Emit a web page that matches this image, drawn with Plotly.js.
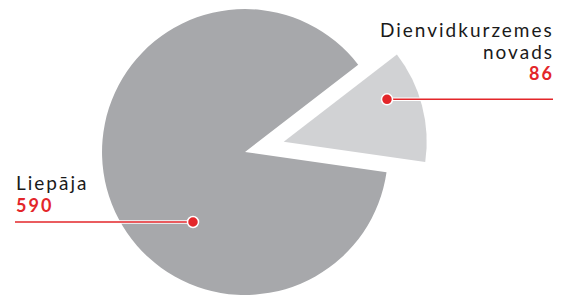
<!DOCTYPE html>
<html>
<head>
<meta charset="utf-8">
<script src="https://cdn.plot.ly/plotly-3.0.1.min.js"></script>
<style>
  html, body { margin: 0; padding: 0; width: 563px; height: 297px; overflow: hidden; background: #fff; }
  #chart { position: absolute; left: 0; top: -31px; width: 563px; height: 366px; }
  .annotation-text { letter-spacing: 2px; }
</style>
</head>
<body>
<div id="chart"></div>
<script>
// Data
const labels = ["Dienvidkurzemes novads", "Liepāja"];
const values = [86, 590];
const labelLines = [["Dienvidkurzemes", "novads"], ["Liepāja"]];
const valueTexts = ["86", "590"];

const W = 563, H = 366, OFF = 31;
const px = x => x / W;
const py = y => 1 - (y + OFF) / H;

const red = "#e3262a";
const sliceColors = ["#d1d2d4", "#a7a8ab"];

const trace = {
  type: "pie",
  labels: labels,
  values: values,
  sort: false,
  direction: "clockwise",
  rotation: 52.35,
  pull: [0.28, 0],
  marker: { colors: sliceColors, line: { width: 0 } },
  textinfo: "none",
  hoverinfo: "skip",
  showlegend: false,
  domain: { x: [62 / W, 428 / W], y: [0, 1] }
};

function leader(x0, x1, y, dotX) {
  return [
    { type: "line", xref: "paper", yref: "paper", x0: px(x0), x1: px(x1), y0: py(y), y1: py(y), line: { color: "#ffffff", width: 3.5 } },
    { type: "line", xref: "paper", yref: "paper", x0: px(x0), x1: px(x1), y0: py(y), y1: py(y), line: { color: red, width: 1.5 } },
    { type: "circle", xref: "paper", yref: "paper", x0: px(dotX - 5.5), x1: px(dotX + 5.5), y0: py(y + 5.5), y1: py(y - 5.5), fillcolor: red, line: { color: "#ffffff", width: 1.5 } }
  ];
}

const shapes = [].concat(leader(15, 193, 222, 193), leader(387, 553, 99.3, 387));

const font = "Lato, 'Open Sans', sans-serif";
const annotations = [
  { text: labelLines[1][0], x: px(14), y: py(182), xanchor: "left", yanchor: "middle", font: { family: font, size: 19, color: "#1a1a1a" } },
  { text: "<b>" + valueTexts[1] + "</b>", x: px(14), y: py(205), xanchor: "left", yanchor: "middle", font: { family: font, size: 18, color: red } },
  { text: labelLines[0][0], x: px(556), y: py(30), xanchor: "right", yanchor: "middle", font: { family: font, size: 19, color: "#1a1a1a" } },
  { text: labelLines[0][1], x: px(556), y: py(51.5), xanchor: "right", yanchor: "middle", font: { family: font, size: 19, color: "#1a1a1a" } },
  { text: "<b>" + valueTexts[0] + "</b>", x: px(556), y: py(73.3), xanchor: "right", yanchor: "middle", font: { family: font, size: 18, color: red } }
].map(a => Object.assign({ xref: "paper", yref: "paper", showarrow: false }, a));

const layout = {
  width: W, height: H,
  margin: { l: 0, r: 0, t: 0, b: 0 },
  paper_bgcolor: "#ffffff",
  plot_bgcolor: "#ffffff",
  showlegend: false,
  shapes: shapes,
  annotations: annotations
};

Plotly.newPlot("chart", [trace], layout, { displayModeBar: false, staticPlot: true });
</script>
</body>
</html>
